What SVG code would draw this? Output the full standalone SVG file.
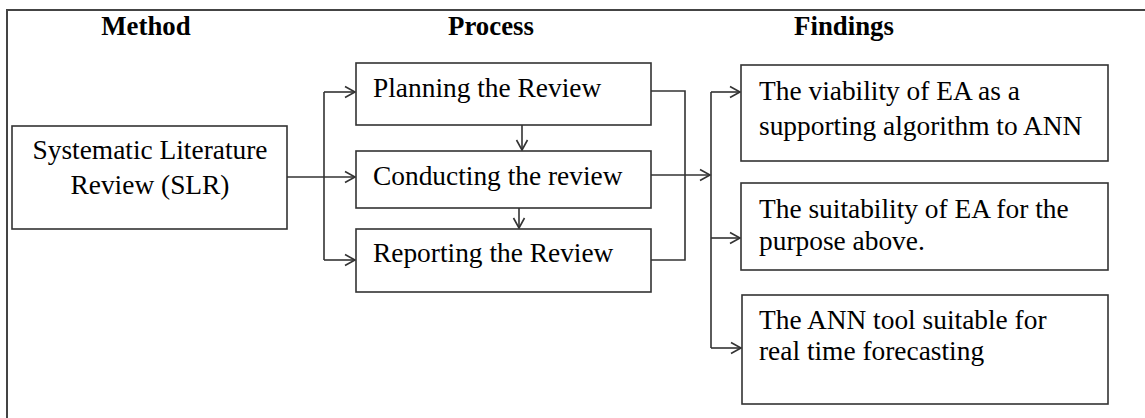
<svg xmlns="http://www.w3.org/2000/svg" width="1145" height="418" viewBox="0 0 1145 418">
<style>
.box{fill:#fff;stroke:#333;stroke-width:1.6}
.frame{fill:#fff;stroke:#444;stroke-width:2}
.t{font-family:"Liberation Serif","Times New Roman",serif;font-size:27.4px;fill:#000}
.h{font-family:"Liberation Serif","Times New Roman",serif;font-size:26.8px;font-weight:bold;fill:#000}
.c{fill:none;stroke:#333;stroke-width:1.6}
</style>
<defs>
<marker id="arr" markerUnits="userSpaceOnUse" markerWidth="14" markerHeight="14" viewBox="0 0 14 14" refX="12" refY="7" orient="auto">
<path d="M2,1.5 L12,7 L2,12.5" fill="none" stroke="#333" stroke-width="1.6"/>
</marker>
</defs>
<rect class="frame" x="7" y="10" width="1150" height="420"/>
<g id="headers">
<text class="h" x="146" y="35" text-anchor="middle">Method</text>
<text class="h" x="491" y="35" text-anchor="middle">Process</text>
<text class="h" x="844" y="35" text-anchor="middle">Findings</text>
</g>
<g id="connectors">
<path class="c" d="M287,177 H355" marker-end="url(#arr)"/>
<path class="c" d="M324,92 V260"/>
<path class="c" d="M324,92 H355" marker-end="url(#arr)"/>
<path class="c" d="M324,260 H355" marker-end="url(#arr)"/>
<path class="c" d="M522,125 V150" marker-end="url(#arr)"/>
<path class="c" d="M519,208 V228" marker-end="url(#arr)"/>
<path class="c" d="M651,91 H685 V260 H651"/>
<path class="c" d="M651,175 H710" marker-end="url(#arr)"/>
<path class="c" d="M711,92 V348"/>
<path class="c" d="M711,92 H740" marker-end="url(#arr)"/>
<path class="c" d="M711,238 H740" marker-end="url(#arr)"/>
<path class="c" d="M711,348 H741" marker-end="url(#arr)"/>
</g>
<g id="slr">
<rect class="box" x="12" y="126" width="275" height="103"/>
<text class="t" x="150" y="159" text-anchor="middle">Systematic Literature</text>
<text class="t" x="150" y="194" text-anchor="middle">Review (SLR)</text>
</g>
<g id="planning">
<rect class="box" x="356" y="63" width="295" height="62"/>
<text class="t" x="373" y="97">Planning the Review</text>
</g>
<g id="conducting">
<rect class="box" x="356" y="151" width="295" height="57"/>
<text class="t" x="373" y="185">Conducting the review</text>
</g>
<g id="reporting">
<rect class="box" x="356" y="229" width="295" height="63"/>
<text class="t" x="373" y="262">Reporting the Review</text>
</g>
<g id="finding1">
<rect class="box" x="741" y="65" width="367" height="96"/>
<text class="t" x="759" y="100">The viability of EA as a</text>
<text class="t" x="759" y="135">supporting algorithm to ANN</text>
</g>
<g id="finding2">
<rect class="box" x="741" y="183" width="367" height="87"/>
<text class="t" x="759" y="218">The suitability of EA for the</text>
<text class="t" x="759" y="250">purpose above.</text>
</g>
<g id="finding3">
<rect class="box" x="742" y="295" width="366" height="109"/>
<text class="t" x="759" y="329">The ANN tool suitable for</text>
<text class="t" x="759" y="360">real time forecasting</text>
</g>
</svg>
